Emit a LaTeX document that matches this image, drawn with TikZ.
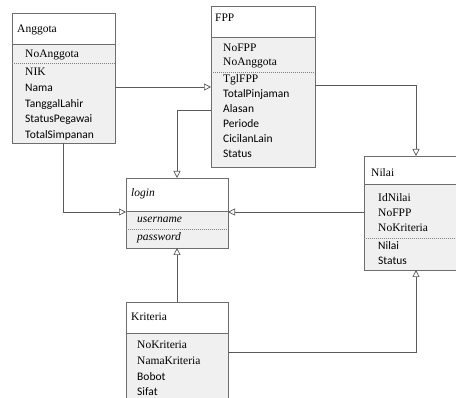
\documentclass[tikz,border=0pt]{standalone}
\usepackage{fontspec}
\setmainfont{Liberation Serif}
\newfontfamily\calfont{Carlito}
\usetikzlibrary{arrows.meta}
\definecolor{boxgray}{HTML}{6E6E6E}
\definecolor{attrgray}{HTML}{F0F0F0}
\definecolor{linegray}{HTML}{5A5A5A}
\newcommand\umlbox[6]{%
  \node[umlframe, minimum width=#4pt, minimum height=#5pt] (#1) at (#2,#3) {};
  \fill[white] (#1.north west) rectangle ([yshift=-#6pt]#1.north east);
  \draw[boxline] ([yshift=-#6pt]#1.north west) -- ([yshift=-#6pt]#1.north east);
  \draw[boxline] (#1.north west) rectangle (#1.south east);
}
\begin{document}
\begin{tikzpicture}[x=1pt,y=-1pt,
  umlframe/.style={fill=attrgray, draw=none, anchor=north west, inner sep=0pt, outer sep=0pt},
  boxline/.style={draw=boxgray, line width=0.8pt},
  sepline/.style={draw=gray, line width=0.6pt, dash pattern=on 1pt off 1pt},
  keytxt/.style={anchor=base west, inner sep=0pt, font=\fontsize{11.5}{13}\selectfont},
  ittxt/.style={anchor=base west, inner sep=0pt, font=\fontsize{11.5}{13}\selectfont\itshape},
  plaintxt/.style={anchor=base west, inner sep=0pt, font=\calfont\fontsize{11.5}{13}\selectfont},
  conn/.style={draw=linegray, line width=0.7pt, -{Triangle[open,length=7pt,width=7pt,fill=white]}}
]
\clip (0,0) rectangle (456,398);
\fill[white] (0,0) rectangle (456,398);

% boxes
\umlbox{anggota}{12}{13}{103}{130}{31}
\umlbox{fpp}{211}{6}{104}{161}{31}
\umlbox{login}{126}{178}{102}{70}{33}
\umlbox{nilai}{364}{156}{96}{114}{28}
\umlbox{kriteria}{126}{302}{102}{103}{31}

% separators
\draw[sepline] ([yshift=-50pt]anggota.north west) -- ([yshift=-50pt]anggota.north east);
\draw[sepline] ([yshift=-66pt]fpp.north west) -- ([yshift=-66pt]fpp.north east);
\draw[sepline] ([yshift=-51pt]login.north west) -- ([yshift=-51pt]login.north east);
\draw[sepline] ([yshift=-82pt]nilai.north west) -- ([yshift=-82pt]nilai.north east);

% Anggota
\node[keytxt] (tA) at (17,33) {Anggota};
\node[keytxt] (a1) at (25,58) {NoAnggota};
\node[keytxt] (a2) at (25,76) {NIK};
\node[plaintxt] (a3) at (25,92) {Nama};
\node[plaintxt] (a4) at (25,107.5) {TanggalLahir};
\node[plaintxt] (a5) at (25,123) {StatusPegawai};
\node[plaintxt] (a6) at (25,138.5) {TotalSimpanan};

% FPP
\node[keytxt] (tF) at (215,22) {FPP};
\node[keytxt] (f1) at (223,52) {NoFPP};
\node[keytxt] (f2) at (223,66) {NoAnggota};
\node[keytxt] (f3) at (223,83) {TglFPP};
\node[plaintxt] (f4) at (223,98) {TotalPinjaman};
\node[plaintxt] (f5) at (223,113) {Alasan};
\node[plaintxt] (f6) at (223,128) {Periode};
\node[plaintxt] (f7) at (223,143) {CicilanLain};
\node[plaintxt] (f8) at (223,158) {Status};

% login
\node[ittxt] (tL) at (131,197) {login};
\node[ittxt] (l1) at (137,223) {username};
\node[ittxt] (l2) at (137,241) {password};

% Nilai
\node[keytxt] (tN) at (371,177) {Nilai};
\node[keytxt] (n1) at (378,202) {IdNilai};
\node[keytxt] (n2) at (378,217) {NoFPP};
\node[keytxt] (n3) at (378,232) {NoKriteria};
\node[plaintxt] (n4) at (378,250) {Nilai};
\node[plaintxt] (n5) at (378,265) {Status};

% Kriteria
\node[keytxt] (tK) at (131,321) {Kriteria};
\node[keytxt] (k1) at (137,349) {NoKriteria};
\node[keytxt] (k2) at (137,365) {NamaKriteria};
\node[plaintxt] (k3) at (137,381) {Bobot};
\node[plaintxt] (k4) at (137,396) {Sifat};

% connectors
\draw[conn] ([yshift=-74pt]anggota.north east) -- ([yshift=-81pt]fpp.north west);
\draw[conn] ([yshift=-104pt]fpp.north west) -| (login.north);
\draw[conn] ([xshift=51pt]anggota.south west) |- ([yshift=-34pt]login.north west);
\draw[conn] ([yshift=-56pt]nilai.north west) -- ([yshift=-34pt]login.north east);
\draw[conn] ([yshift=-79pt]fpp.north east) -| ([xshift=52pt]nilai.north west);
\draw[conn] (kriteria.north) -- (login.south);
\draw[conn] ([yshift=-50pt]kriteria.north east) -| ([xshift=52pt]nilai.south west);
\end{tikzpicture}
\end{document}
